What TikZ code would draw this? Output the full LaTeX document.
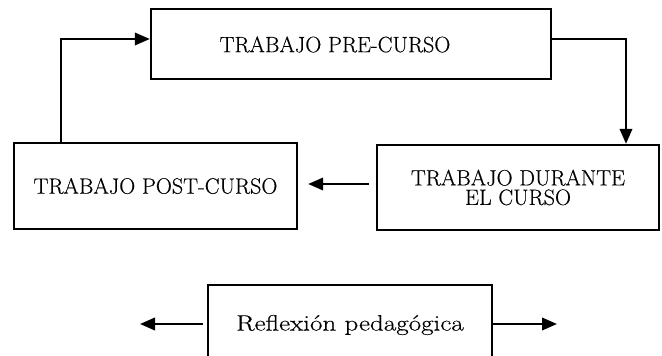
\documentclass[tikz,border=0pt]{standalone}
\usepackage{fontspec}
\setmainfont{Latin Modern Roman}[FakeBold=0.35]
\usetikzlibrary{arrows.meta}
\begin{document}
\begin{tikzpicture}[x=1pt,y=-1pt]
\tikzset{
  box/.style={draw, line width=2.4pt, inner sep=0pt},
  conn/.style={line width=2.2pt},
  arr/.style={conn, -{Triangle[length=15pt,width=12.5pt]}},
  lbl/.style={font=\fontsize{22.2}{19.5}\selectfont, align=center, inner sep=0pt}
}
\useasboundingbox (0,0) rectangle (662,356);
\clip (0,0) rectangle (662,356);
% boxes
\node[box, minimum width=400pt, minimum height=70pt] (pre) at (351,44) {};
\node[lbl] (pretxt) at (335,44.5) {TRABAJO PRE-CURSO};
\node[box, lbl, minimum width=283pt, minimum height=86pt] (post) at (155.5,186) {TRABAJO POST-CURSO};
\node[box, lbl, minimum width=282pt, minimum height=85pt] (dur) at (518,187.5) {TRABAJO DURANTE\\EL CURSO};
\node[lbl, minimum width=284pt, minimum height=80pt] (refl) at (350,325)
  {\scalebox{1.22}[1]{\fontsize{22.2}{24}\selectfont Reflexión pedagógica}};
\draw[line width=2.4pt] (refl.south west) |- (refl.north east) -- (refl.south east);
% connectors
\coordinate (c1) at (61,39);
\coordinate (c2) at (626,39);
\coordinate (c3) at (340,184);
\draw[arr] (post.north -| c1) -- (c1) -- (c1 -| pre.west);
\draw[arr] (c2 -| pre.east) -- (c2) -- (c2 |- dur.north);
\draw[arr] ([xshift=-7pt]c3 -| dur.west) -- ([xshift=10pt]c3 -| post.east);
\coordinate (bl) at (140,324);
\coordinate (br) at (557,324);
\draw[arr] ([xshift=-5pt]refl.west |- bl) -- (bl);
\draw[arr] (refl.east |- br) -- (br);
\end{tikzpicture}
\end{document}
